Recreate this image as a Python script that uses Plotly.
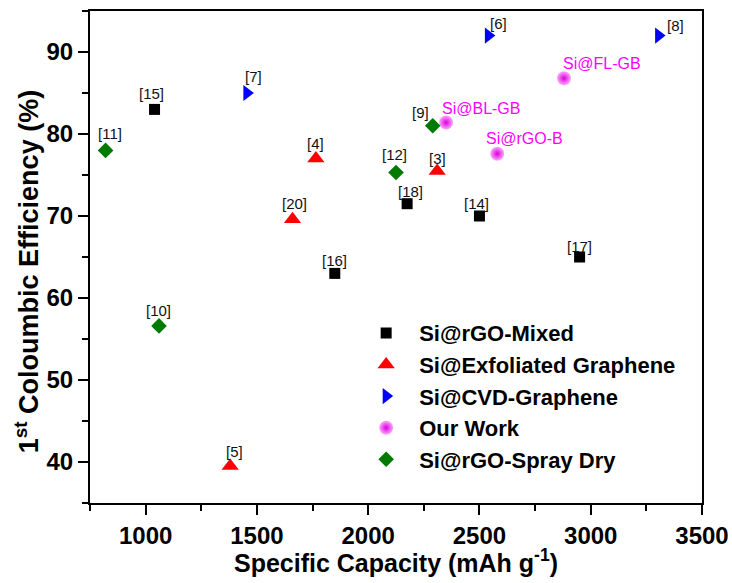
import plotly.graph_objects as go

# Literature comparison: specific capacity vs first-cycle coulombic efficiency
mixed_cap = [1040, 1850, 2175, 2500, 2950]
mixed_ce = [83.0, 63.0, 71.5, 70.0, 65.0]
mixed_ref = ["[15]", "[16]", "[18]", "[14]", "[17]"]

exfol_cap = [1765, 1660, 1380, 2310]
exfol_ce = [77.0, 69.6, 39.5, 75.5]
exfol_ref = ["[4]", "[20]", "[5]", "[3]"]

cvd_cap = [1455, 2540, 3305]
cvd_ce = [85.0, 92.0, 92.0]
cvd_ref = ["[7]", "[6]", "[8]"]

ours_cap = [2880, 2350, 2580]
ours_ce = [86.8, 81.4, 77.6]
ours_name = ["Si@FL-GB", "Si@BL-GB", "Si@rGO-B"]

spray_cap = [820, 1060, 2290, 2125]
spray_ce = [78.0, 56.6, 81.0, 75.3]
spray_ref = ["[11]", "[10]", "[9]", "[12]"]

FONT = "Arial, Liberation Sans, sans-serif"

fig = go.Figure()

fig.add_trace(go.Scatter(
    x=mixed_cap, y=mixed_ce, mode="markers", name="Si@rGO-Mixed",
    marker=dict(symbol="square", size=11, color="black")))
fig.add_trace(go.Scatter(
    x=exfol_cap, y=exfol_ce, mode="markers", name="Si@Exfoliated Graphene",
    marker=dict(symbol="triangle-up", size=15, color="#ff0000")))
fig.add_trace(go.Scatter(
    x=cvd_cap, y=cvd_ce, mode="markers", name="Si@CVD-Graphene",
    marker=dict(symbol="triangle-right", size=14, color="#0000ff")))
fig.add_trace(go.Scatter(
    x=ours_cap, y=ours_ce, mode="markers", name="Our Work",
    marker=dict(symbol="circle", size=14, color="#ffa8ff",
                gradient=dict(type="radial", color="#d800d8"))))
fig.add_trace(go.Scatter(
    x=spray_cap, y=spray_ce, mode="markers", name="Si@rGO-Spray Dry",
    marker=dict(symbol="diamond", size=12, color="#007a00")))

# reference labels: pixel offsets from each marker
label_offsets = {
    "[15]": (-3, 16), "[16]": (0, 13), "[18]": (3, 12), "[14]": (-3, 13), "[17]": (0, 11),
    "[4]": (0, 15), "[20]": (2, 16), "[5]": (4, 15), "[3]": (0, 12),
    "[7]": (7, 17), "[6]": (10, 12), "[8]": (17, 10),
    "[11]": (4, 17), "[10]": (0, 15), "[9]": (-12, 13), "[12]": (-2, 18),
}
annotations = []
for xs, ys, labs in [(mixed_cap, mixed_ce, mixed_ref), (exfol_cap, exfol_ce, exfol_ref),
                     (cvd_cap, cvd_ce, cvd_ref), (spray_cap, spray_ce, spray_ref)]:
    for xv, yv, lab in zip(xs, ys, labs):
        dx, dy = label_offsets[lab]
        annotations.append(dict(
            x=xv, y=yv, text=lab, showarrow=False, xshift=dx, yshift=dy,
            font=dict(family=FONT, size=15, color="#111111")))

ours_offsets = {"Si@FL-GB": (-3, 15), "Si@BL-GB": (-6, 14), "Si@rGO-B": (-13, 15)}
for xv, yv, lab in zip(ours_cap, ours_ce, ours_name):
    dx, dy = ours_offsets[lab]
    annotations.append(dict(
        x=xv, y=yv, text=lab, showarrow=False, xanchor="left", xshift=dx, yshift=dy,
        font=dict(family=FONT, size=16, color="#ff00ff")))

# axis titles
annotations.append(dict(
    xref="paper", yref="paper", x=0.5, y=-0.1175, xanchor="center", yanchor="middle",
    text="<b>Specific Capacity (mAh g<sup>-1</sup>)</b>", showarrow=False,
    font=dict(family=FONT, size=25, color="black")))
annotations.append(dict(
    xref="paper", yref="paper", x=-0.103, y=0.471, xanchor="center", yanchor="middle",
    textangle=-90, text="<b>1<sup>st</sup> Coloumbic Efficiency (%)</b>", showarrow=False,
    font=dict(family=FONT, size=27, color="black")))

axis_common = dict(
    showline=True, linecolor="black", linewidth=2, mirror=True,
    ticks="outside", ticklen=10, tickwidth=2, tickcolor="black",
    showgrid=False, zeroline=False, automargin=False,
    tickfont=dict(family=FONT, size=24, color="black", weight="bold"),
)

fig.update_layout(
    width=732, height=583,
    margin=dict(l=90, r=30, t=11, b=80),
    plot_bgcolor="white", paper_bgcolor="white",
    font=dict(family=FONT, color="black"),
    xaxis=dict(
        range=[750, 3500], tickvals=[1000, 1500, 2000, 2500, 3000, 3500],
        minor=dict(tickvals=[750, 1250, 1750, 2250, 2750, 3250], ticks="outside",
                   ticklen=6, tickwidth=2, tickcolor="black"),
        **axis_common),
    yaxis=dict(
        range=[35, 95], tickvals=[40, 50, 60, 70, 80, 90],
        minor=dict(tickvals=[35, 45, 55, 65, 75, 85, 95], ticks="outside",
                   ticklen=6, tickwidth=2, tickcolor="black"),
        **axis_common),
    legend=dict(
        x=0.43, y=0.388, xanchor="left", yanchor="top",
        bgcolor="rgba(0,0,0,0)", borderwidth=0, itemwidth=56,
        font=dict(family=FONT, size=22, color="black", weight="bold"),
    ),
    annotations=annotations,
)

fig.write_html("out.html")
